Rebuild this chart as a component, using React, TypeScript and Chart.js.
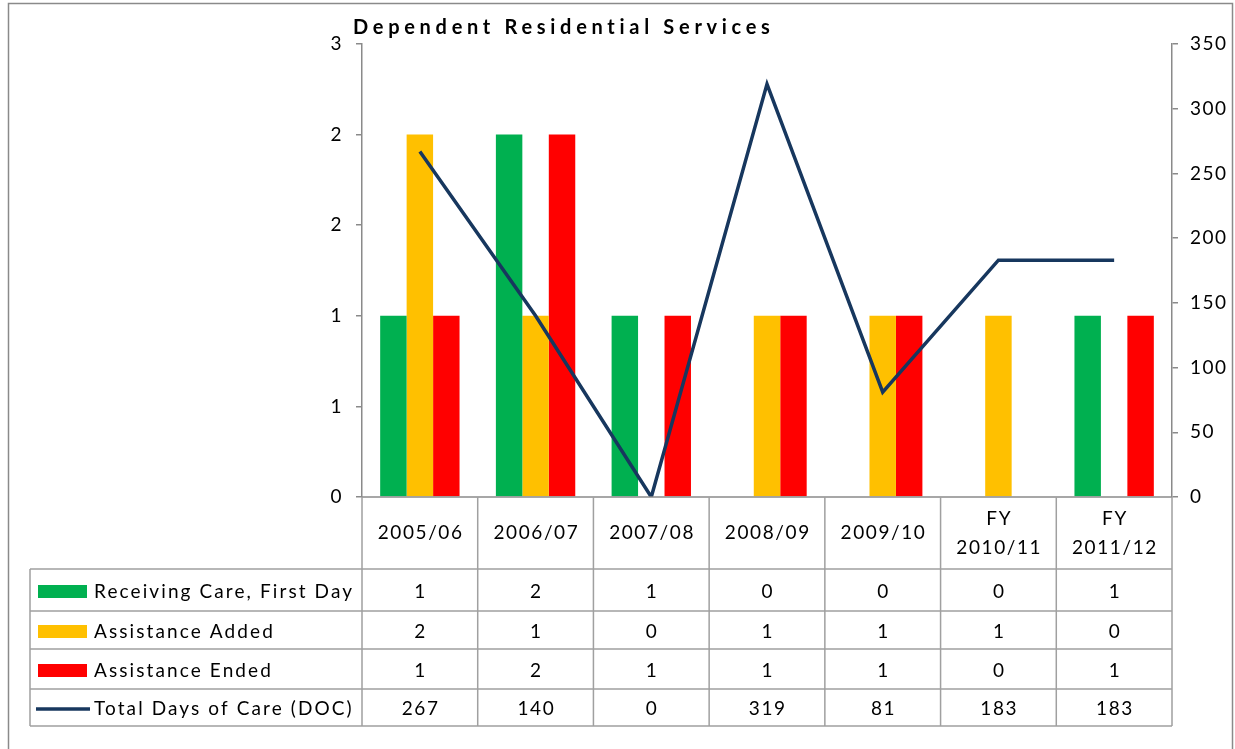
import React, { useEffect, useRef } from "react";
import { Chart, registerables } from "chart.js";

Chart.register(...registerables);

// ---------- data ----------
const categories: string[][] = [
  ["2005/06"],
  ["2006/07"],
  ["2007/08"],
  ["2008/09"],
  ["2009/10"],
  ["FY", "2010/11"],
  ["FY", "2011/12"],
];
const receivingCare = [1, 2, 1, 0, 0, 0, 1];
const assistanceAdded = [2, 1, 0, 1, 1, 1, 0];
const assistanceEnded = [1, 2, 1, 1, 1, 0, 1];
const totalDaysOfCare = [267, 140, 0, 319, 81, 183, 183];
const seriesNames = [
  "Receiving Care, First Day",
  "Assistance Added",
  "Assistance Ended",
  "Total Days of Care (DOC)",
];
const chartTitle = "Dependent Residential Services";

// ---------- styles / layout ----------
const FONT = "Lato, 'Noto Sans', sans-serif";
const GREEN = "#00B050";
const YELLOW = "#FFC000";
const RED = "#FF0000";
const NAVY = "#17375E";
const AXIS_GRAY = "#8a8a8a";
const TABLE_GRAY = "#a0a0a0";
const HEADER_H = 72;
const ROW_HEIGHTS = [42, 38, 40, 37];

const tablePlugin = {
  id: "excelDataTable",
  beforeDraw(chart: any) {
    chart.ctx.letterSpacing = "1.5px";
  },
  afterDraw(chart: any) {
    const ctx: CanvasRenderingContext2D = chart.ctx;
    const { left, right, bottom } = chart.chartArea;
    const n = categories.length;
    const w = (right - left) / n;
    const tableTop = bottom + HEADER_H;
    const rowTops: number[] = [tableTop];
    ROW_HEIGHTS.forEach((h, i) => rowTops.push(rowTops[i] + h));
    const tableLeft = 30;
    const tableBottom = rowTops[rowTops.length - 1];

    ctx.save();
    // outer chart border
    ctx.strokeStyle = AXIS_GRAY;
    ctx.lineWidth = 1.5;
    ctx.strokeRect(8.5, 3.5, 1224, 800);

    // x axis line
    ctx.beginPath();
    ctx.moveTo(left, bottom);
    ctx.lineTo(right, bottom);
    ctx.stroke();

    // table grid
    ctx.strokeStyle = TABLE_GRAY;
    ctx.lineWidth = 1.5;
    ctx.beginPath();
    for (let i = 0; i <= n; i++) {
      const x = left + i * w;
      ctx.moveTo(x, bottom);
      ctx.lineTo(x, tableBottom);
    }
    rowTops.forEach((y) => {
      ctx.moveTo(tableLeft, y);
      ctx.lineTo(right, y);
    });
    ctx.moveTo(tableLeft, tableTop);
    ctx.lineTo(tableLeft, tableBottom);
    ctx.stroke();

    // header labels
    ctx.fillStyle = "#000";
    ctx.font = `19px ${FONT}`;
    ctx.letterSpacing = "1.6px";
    ctx.textAlign = "center";
    ctx.textBaseline = "middle";
    categories.forEach((lines, i) => {
      const cx = left + (i + 0.5) * w + 0.8;
      if (lines.length === 1) {
        ctx.fillText(lines[0], cx, bottom + 36);
      } else {
        ctx.fillText(lines[0], cx, bottom + 22);
        ctx.fillText(lines[1], cx, bottom + 51);
      }
    });

    // rows
    const rows = [receivingCare, assistanceAdded, assistanceEnded, totalDaysOfCare];
    const colors = [GREEN, YELLOW, RED, NAVY];
    rows.forEach((vals, r) => {
      const cy = (rowTops[r] + rowTops[r + 1]) / 2 + 1.5;
      // legend key
      if (r < 3) {
        ctx.fillStyle = colors[r];
        ctx.fillRect(38, cy - 6.5, 49, 13);
      } else {
        ctx.strokeStyle = colors[r];
        ctx.lineWidth = 3.5;
        ctx.beginPath();
        ctx.moveTo(36, cy);
        ctx.lineTo(90, cy);
        ctx.stroke();
      }
      ctx.fillStyle = "#000";
      ctx.textAlign = "left";
      ctx.letterSpacing = "2.1px";
      ctx.fillText(seriesNames[r], 94, cy);
      ctx.letterSpacing = "1.6px";
      ctx.textAlign = "center";
      vals.forEach((v, i) => {
        ctx.fillText(String(v), left + (i + 0.5) * w + 0.8, cy);
      });
    });

    // title
    ctx.font = `bold 20px ${FONT}`;
    ctx.letterSpacing = "4.7px";
    ctx.textAlign = "left";
    ctx.fillText(chartTitle, 353, 28);
    ctx.restore();
  },
};

export default function App() {
  const canvasRef = useRef<HTMLCanvasElement | null>(null);

  useEffect(() => {
    if (!canvasRef.current) return;
    const tickFont = { family: FONT, size: 19 };
    const chart = new Chart(canvasRef.current, {
      type: "bar",
      data: {
        labels: categories.map((c) => c.join(" ")),
        datasets: [
          {
            type: "line",
            label: seriesNames[3],
            data: totalDaysOfCare,
            yAxisID: "y1",
            borderColor: NAVY,
            backgroundColor: NAVY,
            borderWidth: 3.5,
            pointRadius: 0,
            tension: 0,
            order: 0,
          } as any,
          {
            label: seriesNames[0],
            data: receivingCare,
            backgroundColor: GREEN,
            yAxisID: "y",
            order: 1,
          },
          {
            label: seriesNames[1],
            data: assistanceAdded,
            backgroundColor: YELLOW,
            yAxisID: "y",
            order: 1,
          },
          {
            label: seriesNames[2],
            data: assistanceEnded,
            backgroundColor: RED,
            yAxisID: "y",
            order: 1,
          },
        ],
      },
      options: {
        animation: false,
        responsive: true,
        maintainAspectRatio: false,
        datasets: {
          bar: { categoryPercentage: 0.686, barPercentage: 1 },
        },
        layout: { padding: { left: 0, right: 0, top: 44, bottom: 252 } },
        plugins: {
          legend: { display: false },
          title: { display: false },
          tooltip: { enabled: false },
        },
        scales: {
          x: { display: false, offset: true },
          y: {
            position: "left",
            min: 0,
            max: 2.5,
            ticks: {
              stepSize: 0.5,
              callback: (v: any) => String(Math.round(Number(v))),
              font: tickFont,
              color: "#000",
              padding: 13,
            },
            grid: {
              drawOnChartArea: false,
              drawTicks: true,
              tickLength: 6,
              color: AXIS_GRAY,
              lineWidth: 1.5,
            },
            border: { color: AXIS_GRAY, width: 1.5 },
            afterFit: (s: any) => {
              s.width = 362;
            },
          },
          y1: {
            position: "right",
            min: 0,
            max: 350,
            ticks: {
              stepSize: 50,
              font: tickFont,
              color: "#000",
              padding: 12,
            },
            grid: {
              drawOnChartArea: false,
              drawTicks: true,
              tickLength: 6,
              color: AXIS_GRAY,
              lineWidth: 1.5,
            },
            border: { color: AXIS_GRAY, width: 1.5 },
            afterFit: (s: any) => {
              s.width = 63;
            },
          },
        },
      } as any,
      plugins: [tablePlugin],
    });
    return () => chart.destroy();
  }, []);

  return (
    <div
      style={{
        position: "fixed",
        left: 0,
        top: 0,
        width: 1235,
        height: 749,
        background: "#fff",
      }}
    >
      <canvas ref={canvasRef} />
    </div>
  );
}
